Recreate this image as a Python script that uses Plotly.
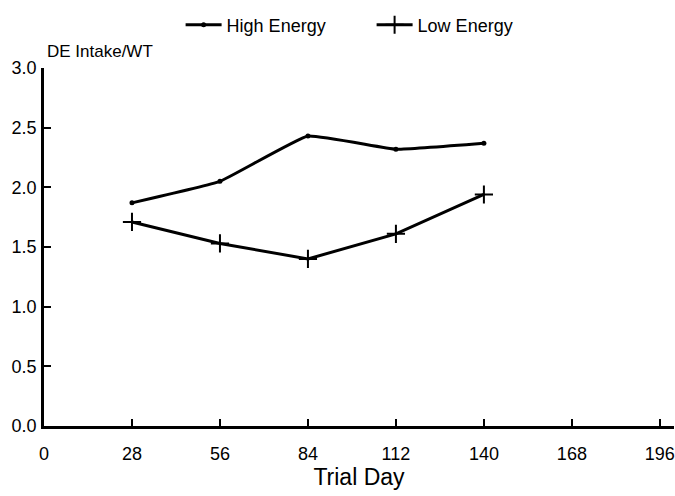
import plotly.graph_objects as go

days = [28, 56, 84, 112, 140]
high_energy = [1.87, 2.05, 2.43, 2.32, 2.37]
low_energy = [1.71, 1.53, 1.40, 1.61, 1.94]
x_ticks = [0, 28, 56, 84, 112, 140, 168, 196]
y_ticks = [0.0, 0.5, 1.0, 1.5, 2.0, 2.5, 3.0]
y_tick_labels = ["0.0", "0.5", "1.0", "1.5", "2.0", "2.5", "3.0"]

font = "Liberation Sans, Arial, sans-serif"

fig = go.Figure()
fig.add_trace(go.Scatter(
    x=days, y=high_energy, name="High Energy", mode="lines+markers",
    line=dict(color="black", width=3, shape="spline", smoothing=0.3),
    marker=dict(symbol="circle", size=5, color="black"),
))
fig.add_trace(go.Scatter(
    x=days, y=low_energy, name="Low Energy", mode="lines+markers",
    line=dict(color="black", width=3),
    marker=dict(symbol="cross-thin", size=13, line=dict(color="black", width=2)),
))

fig.update_layout(
    width=675, height=496,
    margin=dict(l=44, r=1, t=68, b=70),
    paper_bgcolor="white", plot_bgcolor="white",
    font=dict(family=font, size=18, color="black"),
    showlegend=True,
    legend=dict(orientation="h", x=0.52, xanchor="center", y=1.12, yanchor="middle",
                font=dict(size=18), itemwidth=36, entrywidth=140, entrywidthmode="pixels",
                bgcolor="rgba(0,0,0,0)"),
    xaxis=dict(range=[0, 200.5], tickvals=x_ticks, ticks="inside", ticklen=7,
               tickwidth=2, tickcolor="black", showline=True, linecolor="black",
               linewidth=2.5, showgrid=False, zeroline=False, ticklabeloverflow="allow",
               ticklabelstandoff=10,
               tickfont=dict(size=18), title=dict(text="Trial Day", font=dict(size=23), standoff=6)),
    yaxis=dict(range=[0, 3.0], tickvals=y_ticks, ticktext=y_tick_labels, ticks="inside",
               ticklen=7, tickwidth=2, tickcolor="black", showline=True,
               linecolor="black", linewidth=2.5, showgrid=False, zeroline=False,
               ticklabelstandoff=1, tickfont=dict(size=18)),
    annotations=[dict(text="DE Intake/WT", x=0, y=1.045, xref="paper", yref="paper",
                      xanchor="left", yanchor="middle", showarrow=False, xshift=1,
                      font=dict(size=17))],
)

fig.write_html("out.html")
